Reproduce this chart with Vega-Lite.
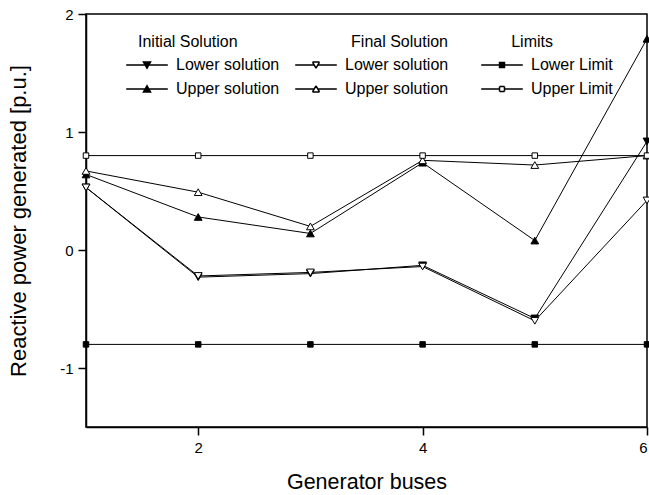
{
  "$schema": "https://vega.github.io/schema/vega-lite/v6.json",
  "width": 561,
  "height": 413,
  "autosize": {"type": "none"},
  "padding": {"left": 86, "top": 14, "right": 2, "bottom": 68},
  "background": "white",
  "config": {
    "font": "Liberation Sans",
    "view": {"stroke": "black", "strokeWidth": 1.5},
    "axis": {
      "grid": false,
      "domainColor": "black",
      "domainWidth": 1.5,
      "tickColor": "black",
      "tickWidth": 1.5,
      "tickSize": 8,
      "labelFont": "Liberation Sans",
      "labelFontSize": 15,
      "labelColor": "black",
      "labelPadding": 5,
      "labelExpr": "datum.value < 0 ? '-' + abs(datum.value) : '' + datum.value",
      "titleFont": "Liberation Sans",
      "titleFontWeight": "normal",
      "titleColor": "black"
    },
    "legend": {
      "padding": 0,
      "titleFont": "Liberation Sans",
      "titleFontSize": 16,
      "titleFontWeight": "normal",
      "titleColor": "black",
      "titlePadding": 6,
      "labelFont": "Liberation Sans",
      "labelFontSize": 16,
      "labelColor": "black",
      "labelOffset": 20,
      "rowPadding": 7,
      "symbolSize": 256,
      "symbolOpacity": 1
    }
  },
  "data": {
    "values": [
      {"bus": 1, "value": 0.53, "group": "Initial Solution", "label": "Lower solution"},
      {"bus": 2, "value": -0.23, "group": "Initial Solution", "label": "Lower solution"},
      {"bus": 3, "value": -0.2, "group": "Initial Solution", "label": "Lower solution"},
      {"bus": 4, "value": -0.13, "group": "Initial Solution", "label": "Lower solution"},
      {"bus": 5, "value": -0.58, "group": "Initial Solution", "label": "Lower solution"},
      {"bus": 6, "value": 0.92, "group": "Initial Solution", "label": "Lower solution"},
      {"bus": 1, "value": 0.64, "group": "Initial Solution", "label": "Upper solution"},
      {"bus": 2, "value": 0.28, "group": "Initial Solution", "label": "Upper solution"},
      {"bus": 3, "value": 0.14, "group": "Initial Solution", "label": "Upper solution"},
      {"bus": 4, "value": 0.74, "group": "Initial Solution", "label": "Upper solution"},
      {"bus": 5, "value": 0.08, "group": "Initial Solution", "label": "Upper solution"},
      {"bus": 6, "value": 1.79, "group": "Initial Solution", "label": "Upper solution"},
      {"bus": 1, "value": 0.53, "group": "Final Solution", "label": "Lower solution"},
      {"bus": 2, "value": -0.22, "group": "Final Solution", "label": "Lower solution"},
      {"bus": 3, "value": -0.19, "group": "Final Solution", "label": "Lower solution"},
      {"bus": 4, "value": -0.14, "group": "Final Solution", "label": "Lower solution"},
      {"bus": 5, "value": -0.6, "group": "Final Solution", "label": "Lower solution"},
      {"bus": 6, "value": 0.42, "group": "Final Solution", "label": "Lower solution"},
      {"bus": 1, "value": 0.67, "group": "Final Solution", "label": "Upper solution"},
      {"bus": 2, "value": 0.49, "group": "Final Solution", "label": "Upper solution"},
      {"bus": 3, "value": 0.2, "group": "Final Solution", "label": "Upper solution"},
      {"bus": 4, "value": 0.76, "group": "Final Solution", "label": "Upper solution"},
      {"bus": 5, "value": 0.72, "group": "Final Solution", "label": "Upper solution"},
      {"bus": 6, "value": 0.8, "group": "Final Solution", "label": "Upper solution"},
      {"bus": 1, "value": -0.8, "group": "Limits", "label": "Lower Limit"},
      {"bus": 2, "value": -0.8, "group": "Limits", "label": "Lower Limit"},
      {"bus": 3, "value": -0.8, "group": "Limits", "label": "Lower Limit"},
      {"bus": 4, "value": -0.8, "group": "Limits", "label": "Lower Limit"},
      {"bus": 5, "value": -0.8, "group": "Limits", "label": "Lower Limit"},
      {"bus": 6, "value": -0.8, "group": "Limits", "label": "Lower Limit"},
      {"bus": 1, "value": 0.8, "group": "Limits", "label": "Upper Limit"},
      {"bus": 2, "value": 0.8, "group": "Limits", "label": "Upper Limit"},
      {"bus": 3, "value": 0.8, "group": "Limits", "label": "Upper Limit"},
      {"bus": 4, "value": 0.8, "group": "Limits", "label": "Upper Limit"},
      {"bus": 5, "value": 0.8, "group": "Limits", "label": "Upper Limit"},
      {"bus": 6, "value": 0.8, "group": "Limits", "label": "Upper Limit"}
    ]
  },
  "encoding": {
    "x": {
      "field": "bus",
      "type": "quantitative",
      "scale": {"domain": [1, 6], "nice": false, "zero": false},
      "axis": {"title": "Generator buses", "values": [2, 4, 6], "titlePadding": 16, "titleFontSize": 21.5}
    },
    "y": {
      "field": "value",
      "type": "quantitative",
      "scale": {"domain": [-1.5, 2], "nice": false, "zero": false},
      "axis": {"title": "Reactive power generated [p.u.]", "values": [-1, 0, 1, 2], "titlePadding": 29, "titleFontSize": 22}
    }
  },
  "layer": [
    {
      "transform": [{"filter": "datum.group === 'Initial Solution'"}],
      "layer": [
        {
          "mark": {"type": "line", "color": "black", "strokeWidth": 1},
          "encoding": {"detail": {"field": "label"}}
        },
        {
          "mark": {"type": "point", "stroke": "black", "strokeWidth": 1, "opacity": 1, "size": 60},
          "encoding": {
            "shape": {
              "field": "label",
              "scale": {"domain": ["Lower solution", "Upper solution"], "range": ["triangle-down", "triangle-up"]},
              "legend": null
            },
            "fill": {
              "field": "label",
              "scale": {"domain": ["Lower solution", "Upper solution"], "range": ["black", "black"]},
              "legend": null
            }
          }
        },
        {
          "mark": {"type": "point", "filled": true, "fill": "black", "stroke": "black", "strokeWidth": 1, "opacity": 0},
          "encoding": {
            "shape": {
              "field": "label",
              "scale": {
                "domain": ["Lower solution", "Upper solution"],
                "range": [
                  "M-2.6,0H2.6M-0.44,-0.37H0.44L0,0.4ZM-0.44,-0.375H0.44M-0.37,-0.25H0.37M-0.3,-0.125H0.3M-0.23,0H0.23M-0.16,0.125H0.16M-0.09,0.25H0.09",
                  "M-2.6,0H2.6M-0.44,0.37H0.44L0,-0.4ZM-0.44,0.375H0.44M-0.37,0.25H0.37M-0.3,0.125H0.3M-0.23,0H0.23M-0.16,-0.125H0.16M-0.09,-0.25H0.09"
                ]
              },
              "legend": {
                "title": "Initial Solution", "orient": "none", "legendX": 52, "legendY": 20, "titleAnchor": "start",
                "encode": {"symbols": {
                  "size": {"value": 256},
                  "stroke": {"value": "black"},
                  "strokeWidth": {"value": 1},
                  "fill": {"value": "black"},
                  "opacity": {"value": 1}
                }}
              }
            }
          }
        }
      ],
      "resolve": {"scale": {"shape": "independent"}, "legend": {"shape": "independent"}}
    },
    {
      "transform": [{"filter": "datum.group === 'Final Solution'"}],
      "layer": [
        {
          "mark": {"type": "line", "color": "black", "strokeWidth": 1},
          "encoding": {"detail": {"field": "label"}}
        },
        {
          "mark": {"type": "point", "stroke": "black", "strokeWidth": 1, "opacity": 1, "size": 60},
          "encoding": {
            "shape": {
              "field": "label",
              "scale": {"domain": ["Lower solution", "Upper solution"], "range": ["triangle-down", "triangle-up"]},
              "legend": null
            },
            "fill": {
              "field": "label",
              "scale": {"domain": ["Lower solution", "Upper solution"], "range": ["white", "white"]},
              "legend": null
            }
          }
        },
        {
          "mark": {"type": "point", "filled": true, "fill": "black", "stroke": "black", "strokeWidth": 1, "opacity": 0},
          "encoding": {
            "shape": {
              "field": "label",
              "scale": {
                "domain": ["Lower solution", "Upper solution"],
                "range": [
                  "M-2.6,0H-0.23M0.23,0H2.6M-0.44,-0.37H0.44M0.44,-0.37L0,0.4M0,0.4L-0.44,-0.37",
                  "M-2.6,0H-0.23M0.23,0H2.6M-0.44,0.37H0.44M0.44,0.37L0,-0.4M0,-0.4L-0.44,0.37"
                ]
              },
              "legend": {
                "title": "Final Solution", "orient": "none", "legendX": 221, "legendY": 20, "titleAnchor": "end",
                "encode": {"symbols": {
                  "size": {"value": 256},
                  "stroke": {"value": "black"},
                  "strokeWidth": {"value": 1},
                  "fill": {"value": "black"},
                  "opacity": {"value": 1}
                }}
              }
            }
          }
        }
      ],
      "resolve": {"scale": {"shape": "independent"}, "legend": {"shape": "independent"}}
    },
    {
      "transform": [{"filter": "datum.group === 'Limits'"}],
      "layer": [
        {
          "mark": {"type": "line", "color": "black", "strokeWidth": 1},
          "encoding": {"detail": {"field": "label"}}
        },
        {
          "mark": {"type": "point", "shape": "square", "stroke": "black", "strokeWidth": 1, "opacity": 1, "size": 30},
          "encoding": {
            "fill": {
              "field": "label",
              "scale": {"domain": ["Lower Limit", "Upper Limit"], "range": ["black", "white"]},
              "legend": null
            }
          }
        },
        {
          "mark": {"type": "point", "filled": true, "fill": "black", "stroke": "black", "strokeWidth": 1, "opacity": 0},
          "encoding": {
            "shape": {
              "field": "label",
              "scale": {
                "domain": ["Lower Limit", "Upper Limit"],
                "range": [
                  "M-2.6,0H2.6M-0.31,-0.31H0.31V0.31H-0.31ZM-0.31,-0.25H0.31M-0.31,-0.125H0.31M-0.31,0.125H0.31M-0.31,0.25H0.31",
                  "M-2.6,0H-0.31M0.31,0H2.6M-0.31,-0.31H0.31M0.31,-0.31V0.31M0.31,0.31H-0.31M-0.31,0.31V-0.31"
                ]
              },
              "legend": {
                "title": "Limits", "orient": "none", "legendX": 407, "legendY": 20, "titleAnchor": "middle", "titleAlign": "right",
                "encode": {"symbols": {
                  "size": {"value": 256},
                  "stroke": {"value": "black"},
                  "strokeWidth": {"value": 1},
                  "fill": {"value": "black"},
                  "opacity": {"value": 1}
                }}
              }
            }
          }
        }
      ],
      "resolve": {"scale": {"shape": "independent"}, "legend": {"shape": "independent"}}
    }
  ],
  "resolve": {
    "scale": {"shape": "independent", "fill": "independent"},
    "legend": {"shape": "independent", "fill": "independent"}
  }
}
